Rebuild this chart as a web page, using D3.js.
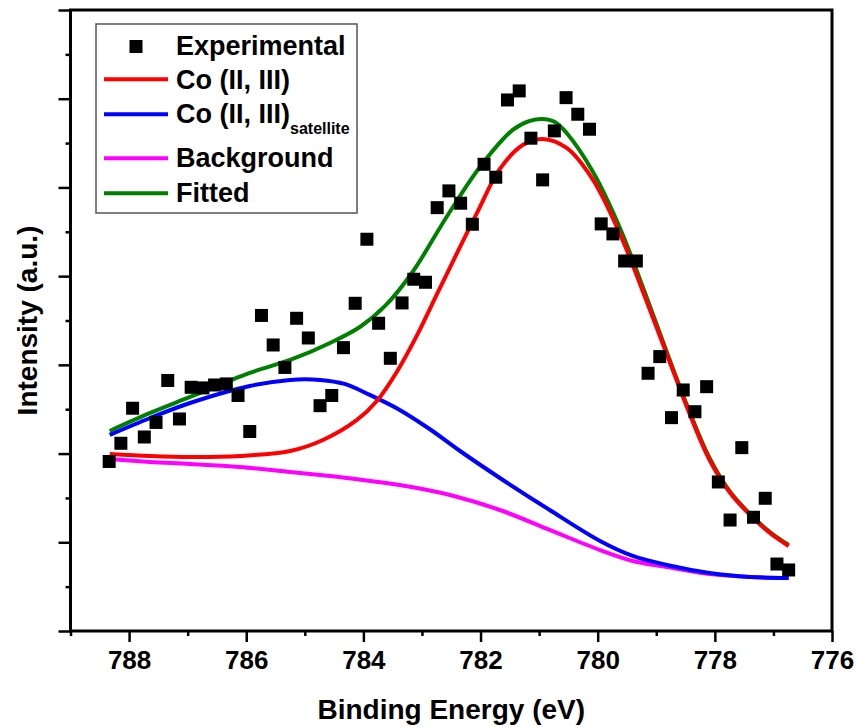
<!DOCTYPE html>
<html>
<head>
<meta charset="utf-8">
<script src="https://cdnjs.cloudflare.com/ajax/libs/d3/7.8.5/d3.min.js"></script>
<style>
  body { margin: 0; background: #fff; }
  text { font-family: "Liberation Sans", Arial, sans-serif; font-weight: bold; }
</style>
</head>
<body>
<script>

// experimental points
const expX = [788.34, 788.14, 787.94, 787.74, 787.54, 787.34, 787.14, 786.94, 786.74, 786.54,
  786.34, 786.14, 785.94, 785.74, 785.54, 785.34, 785.14, 784.94, 784.74, 784.54,
  784.34, 784.14, 783.94, 783.74, 783.54, 783.34, 783.14, 782.94, 782.74, 782.54,
  782.34, 782.14, 781.94, 781.74, 781.54, 781.34, 781.14, 780.94, 780.74, 780.54,
  780.34, 780.14, 779.94, 779.74, 779.54, 779.34, 779.14, 778.94, 778.74, 778.54,
  778.34, 778.14, 777.94, 777.74, 777.54, 777.34, 777.14, 776.94, 776.74];
const expY = [1.911, 2.116, 2.511, 2.187, 2.351, 2.824, 2.390, 2.747, 2.740, 2.773,
  2.785, 2.655, 2.249, 3.557, 3.224, 2.971, 3.525, 3.303, 2.540, 2.655,
  3.194, 3.694, 4.416, 3.469, 3.074, 3.698, 3.965, 3.931, 4.772, 4.961,
  4.822, 4.585, 5.261, 5.115, 5.986, 6.088, 5.555, 5.085, 5.637, 6.012,
  5.825, 5.656, 4.589, 4.476, 4.171, 4.171, 2.905, 3.093, 2.405, 2.717,
  2.472, 2.754, 1.680, 1.251, 2.067, 1.282, 1.496, 0.755, 0.688];

// Co (II, III)
const coX = [788.33, 787.64, 786.96, 786.11, 785.25, 784.69, 784.11, 783.77, 783.43, 783.09,
  782.75, 782.40, 782.06, 781.67, 781.28, 780.94, 780.53, 780.08, 779.62, 779.16,
  778.77, 778.43, 778.09, 777.75, 777.40, 777.06, 776.74];
const coY = [1.996, 1.973, 1.962, 1.973, 2.029, 2.153, 2.379, 2.593, 2.920, 3.326,
  3.788, 4.262, 4.713, 5.209, 5.479, 5.547, 5.445, 5.085, 4.476, 3.709,
  3.033, 2.446, 1.928, 1.567, 1.308, 1.105, 0.958];

// Co (II, III) satellite
const satX = [788.33, 787.64, 786.96, 785.94, 785.25, 784.74, 784.32, 783.89, 783.38, 782.87,
  782.35, 781.67, 780.82, 779.96, 779.40, 778.82, 778.09, 777.40, 776.74];
const satY = [2.210, 2.401, 2.570, 2.762, 2.830, 2.830, 2.785, 2.661, 2.492, 2.277,
  2.029, 1.725, 1.364, 1.015, 0.846, 0.744, 0.654, 0.609, 0.598];

// Background
const bgX = [788.33, 787.64, 786.96, 786.11, 785.25, 784.57, 784.01, 783.38, 782.52, 781.67,
  780.82, 779.96, 779.40, 778.82, 778.09, 777.40, 776.74];
const bgY = [1.939, 1.905, 1.883, 1.849, 1.793, 1.747, 1.702, 1.646, 1.533, 1.364,
  1.139, 0.913, 0.789, 0.722, 0.643, 0.609, 0.598];

// Fitted
const fitX = [788.33, 787.64, 786.96, 785.94, 785.25, 784.57, 784.06, 783.63, 783.16, 782.58,
  782.01, 781.45, 781.16, 780.95, 780.73, 780.53, 780.08, 779.62, 779.16, 778.77,
  778.43, 778.09, 777.75, 777.40, 777.06, 776.74];
const fitY = [2.255, 2.458, 2.638, 2.909, 3.055, 3.247, 3.427, 3.664, 4.047, 4.667,
  5.231, 5.648, 5.750, 5.772, 5.738, 5.614, 5.175, 4.543, 3.754, 3.055,
  2.469, 1.950, 1.578, 1.319, 1.116, 0.970];

const xMajor = [788, 786, 784, 782, 780, 778, 776];
const xMinor = [789, 787, 785, 783, 781, 779, 777];
const yMajor = [0, 1, 2, 3, 4, 5, 6, 7];
const yMinor = [0.5, 1.5, 2.5, 3.5, 4.5, 5.5, 6.5];

const W = 859;
const H = 727;
const mL = 70.5, mR = 832, mT = 10, mB = 631;

const svg = d3.select("body")
  .append("svg")
  .attr("width", W)
  .attr("height", H)
  .style("background", "#fff");

const x = d3.scaleLinear().domain([789, 776]).range([mL, mR]);
const y = d3.scaleLinear().domain([0, 7]).range([mB, mT]);

// axes
const gx = svg.append("g")
  .attr("transform", `translate(0,${mB})`)
  .call(d3.axisBottom(x).tickValues(xMajor).tickSize(11).tickPadding(9).tickFormat(d3.format("d")));
svg.append("g")
  .attr("transform", `translate(0,${mB})`)
  .call(d3.axisBottom(x).tickValues(xMinor).tickSize(5).tickFormat(""));
svg.append("g")
  .attr("transform", `translate(${mL},0)`)
  .call(d3.axisLeft(y).tickValues(yMajor).tickSize(12).tickFormat(""));
svg.append("g")
  .attr("transform", `translate(${mL},0)`)
  .call(d3.axisLeft(y).tickValues(yMinor).tickSize(5).tickFormat(""));

svg.selectAll(".domain").remove();
svg.selectAll(".tick line").attr("stroke", "#000").attr("stroke-width", 2.5);
gx.selectAll(".tick text")
  .attr("fill", "#000")
  .style("font-size", "26px");

svg.append("rect")
  .attr("x", mL)
  .attr("y", mT)
  .attr("width", mR - mL)
  .attr("height", mB - mT)
  .attr("fill", "none")
  .attr("stroke", "#000")
  .attr("stroke-width", 3);

// curves
const line = d3.line()
  .x(d => x(d[0]))
  .y(d => y(d[1]))
  .curve(d3.curveCatmullRom.alpha(0.5));

const curves = [
  { xs: fitX, ys: fitY, color: "#008000" },
  { xs: bgX, ys: bgY, color: "#ff00ff" },
  { xs: satX, ys: satY, color: "#0000ff" },
  { xs: coX, ys: coY, color: "#ff0000" }
];

curves.forEach(c => {
  svg.append("path")
    .datum(d3.zip(c.xs, c.ys))
    .attr("d", line)
    .attr("fill", "none")
    .attr("stroke", c.color)
    .attr("stroke-width", 4);
});

// experimental squares
const s = 13;
svg.selectAll("rect.pt")
  .data(d3.zip(expX, expY))
  .enter()
  .append("rect")
  .attr("class", "pt")
  .attr("x", d => x(d[0]) - s / 2)
  .attr("y", d => y(d[1]) - s / 2)
  .attr("width", s)
  .attr("height", s)
  .attr("fill", "#000");

// axis titles
svg.append("text")
  .text("Binding Energy (eV)")
  .attr("x", (mL + mR) / 2)
  .attr("y", 719)
  .attr("text-anchor", "middle")
  .style("font-size", "28px");

svg.append("text")
  .text("Intensity (a.u.)")
  .attr("transform", `translate(37,${(mT + mB) / 2}) rotate(-90)`)
  .attr("text-anchor", "middle")
  .style("font-size", "28px");

// legend
const legend = svg.append("g").attr("id", "legend");

legend.append("rect")
  .attr("x", 96)
  .attr("y", 24)
  .attr("width", 261)
  .attr("height", 189)
  .attr("fill", "#fff")
  .attr("stroke", "#555")
  .attr("stroke-width", 1.5);

legend.append("rect")
  .attr("x", 136 - 6.5)
  .attr("y", 46.5 - 6.5)
  .attr("width", 13)
  .attr("height", 13)
  .attr("fill", "#000");

legend.append("text").text("Experimental").attr("x", 176).attr("y", 54.5).style("font-size", "27px");

const rows = [
  { label: "Co (II, III)", color: "#ff0000", ly: 79.3, ty: 89 },
  { label: "Co (II, III)", sub: "satellite", color: "#0000ff", ly: 114.3, ty: 123.3 },
  { label: "Background", color: "#ff00ff", ly: 158.3, ty: 167.3 },
  { label: "Fitted", color: "#008000", ly: 193.3, ty: 202.3 }
];

rows.forEach(r => {
  legend.append("line")
    .attr("x1", 104).attr("x2", 168)
    .attr("y1", r.ly).attr("y2", r.ly)
    .attr("stroke", r.color)
    .attr("stroke-width", 4);
  const t = legend.append("text")
    .attr("x", 176)
    .attr("y", r.ty)
    .style("font-size", "27px");
  t.append("tspan").text(r.label);
  if (r.sub) {
    t.append("tspan").text(r.sub).attr("dy", 11).style("font-size", "16px");
  }
});

</script>
</body>
</html>
